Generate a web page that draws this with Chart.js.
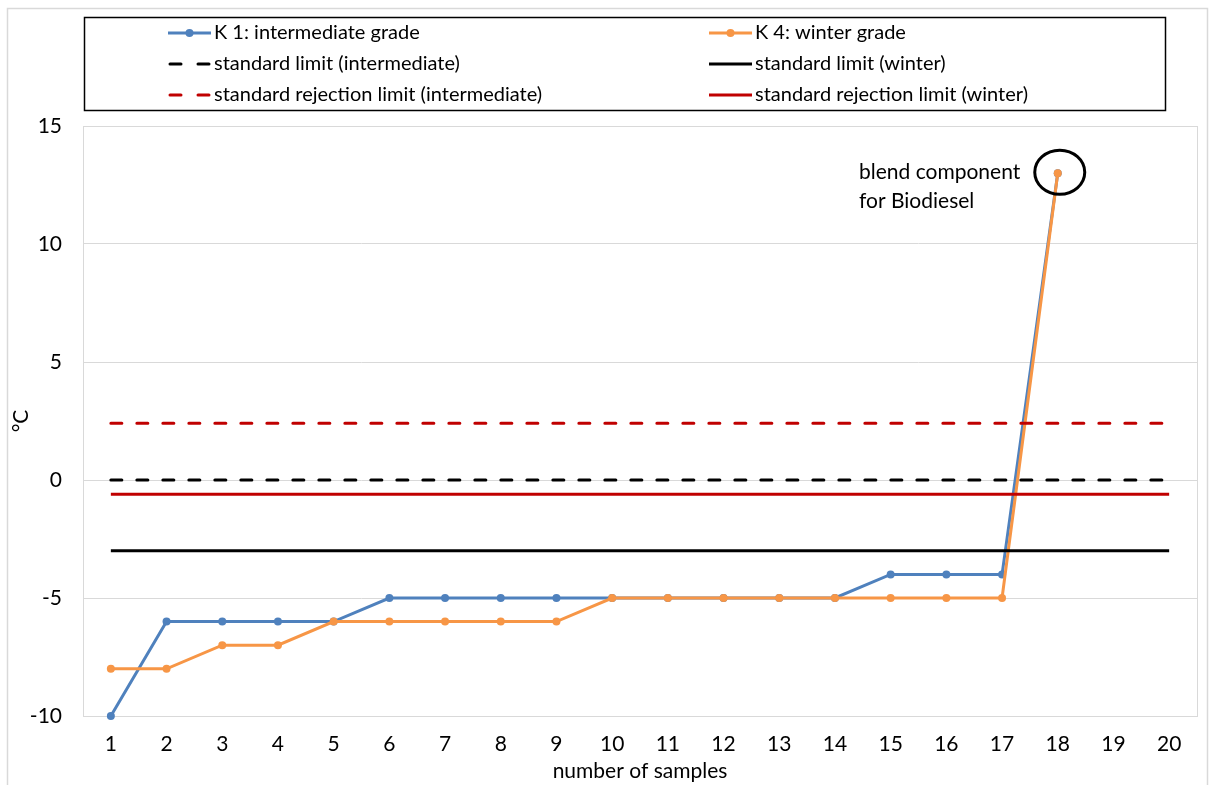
<!DOCTYPE html>
<html>
<head>
<meta charset="utf-8">
<script src="https://cdn.jsdelivr.net/npm/chart.js@4.4.1/dist/chart.umd.min.js"></script>
<style>
  html, body { margin: 0; padding: 0; background: #ffffff; }
  #wrap { width: 1209px; height: 785px; position: relative; }
</style>
</head>
<body>
<div id="wrap"><canvas id="chart" width="1209" height="785"></canvas></div>
<script>
// Sample numbers on the x axis
const samples = ['1','2','3','4','5','6','7','8','9','10','11','12','13','14','15','16','17','18','19','20'];

// Measured values (°C)
const k1Intermediate = [-10, -6, -6, -6, -6, -5, -5, -5, -5, -5, -5, -5, -5, -5, -4, -4, -4, 13];
const k4Winter       = [-8, -8, -7, -7, -6, -6, -6, -6, -6, -5, -5, -5, -5, -5, -5, -5, -5, 13];

// Limits (°C)
const limitIntermediate          = 0;
const limitWinter                = -3;
const rejectionLimitIntermediate = 2.4;
const rejectionLimitWinter       = -0.6;

// Y axis range
const yMin = -10, yMax = 15, yStep = 5;

const FONT = 'Lato, "Open Sans", "Liberation Sans", sans-serif';
const AXIS_SIZE = 21;
const BLUE = '#4F81BD', ORANGE = '#F79646', RED = '#C00000', BLACK = '#000000';

// a limit is drawn across the full sample range
const span = v => [{ x: samples[0], y: v }, { x: samples[samples.length - 1], y: v }];

const seriesStyle = (color) => ({
  borderColor: color, backgroundColor: color, borderWidth: 3,
  pointRadius: 4, pointHoverRadius: 4, pointBackgroundColor: color, pointBorderWidth: 0,
  tension: 0, clip: false
});
const limitStyle = (color, dashed) => ({
  borderColor: color, backgroundColor: color, borderWidth: 3,
  borderDash: dashed ? [11, 15] : [], borderCapStyle: dashed ? 'round' : 'butt',
  pointRadius: 0, pointHoverRadius: 0, order: 0
});

const datasets = [
  Object.assign({ label: 'K 1: intermediate grade', data: k1Intermediate, order: 2 }, seriesStyle(BLUE)),
  Object.assign({ label: 'K 4: winter grade', data: k4Winter, order: 1 }, seriesStyle(ORANGE)),
  Object.assign({ label: 'standard limit (intermediate)', data: span(limitIntermediate) }, limitStyle(BLACK, true)),
  Object.assign({ label: 'standard limit (winter)', data: span(limitWinter) }, limitStyle(BLACK, false)),
  Object.assign({ label: 'standard rejection limit (intermediate)', data: span(rejectionLimitIntermediate) }, limitStyle(RED, true)),
  Object.assign({ label: 'standard rejection limit (winter)', data: span(rejectionLimitWinter) }, limitStyle(RED, false))
];

// Outer frame, plot border, two-column boxed legend and the note on sample 18
const decorations = {
  id: 'decorations',
  beforeDatasetsDraw(chart) {
    const { ctx, chartArea: a } = chart;
    ctx.save();
    ctx.strokeStyle = '#D9D9D9';
    ctx.lineWidth = 1;
    ctx.strokeRect(Math.round(a.left) + 0.5, Math.round(a.top) + 0.5,
                   Math.round(a.right - a.left), Math.round(a.bottom - a.top));
    ctx.restore();
  },
  afterDraw(chart) {
    const { ctx } = chart;
    ctx.save();
    // outer frame
    ctx.strokeStyle = '#D9D9D9';
    ctx.lineWidth = 1.5;
    ctx.beginPath();
    ctx.moveTo(7.5, 800); ctx.lineTo(7.5, 8.5); ctx.lineTo(1207.5, 8.5); ctx.lineTo(1207.5, 800);
    ctx.stroke();

    // legend box
    ctx.strokeStyle = '#000000';
    ctx.lineWidth = 1.5;
    ctx.strokeRect(84.5, 17.5, 1081, 93);

    const colX = [168, 709];
    const rowY = [33, 64, 95];
    ctx.font = '20px ' + FONT;
    ctx.textBaseline = 'middle';
    ctx.textAlign = 'left';
    chart.data.datasets.forEach((ds, i) => {
      const x0 = colX[i % 2], y = rowY[Math.floor(i / 2)];
      const x1 = x0 + 43;
      ctx.strokeStyle = ds.borderColor;
      ctx.lineWidth = 3;
      if (ds.borderDash && ds.borderDash.length) {
        ctx.lineCap = 'round';
        ctx.beginPath(); ctx.moveTo(x0 + 2, y); ctx.lineTo(x0 + 13, y); ctx.stroke();
        ctx.beginPath(); ctx.moveTo(x1 - 13, y); ctx.lineTo(x1 - 2, y); ctx.stroke();
      } else {
        ctx.lineCap = 'butt';
        ctx.beginPath(); ctx.moveTo(x0, y); ctx.lineTo(x1, y); ctx.stroke();
      }
      if (ds.pointRadius > 0) {
        ctx.fillStyle = ds.borderColor;
        ctx.beginPath(); ctx.arc((x0 + x1) / 2, y, 4, 0, Math.PI * 2); ctx.fill();
      }
      ctx.fillStyle = '#000000';
      ctx.fillText(ds.label, x1 + 3, y);
    });

    // note pointing at the last measured sample
    const xs = chart.scales.x, ys = chart.scales.y;
    const idx = k4Winter.length - 1;
    const px = xs.getPixelForValue(idx), py = ys.getPixelForValue(k4Winter[idx]);
    ctx.strokeStyle = '#000000';
    ctx.lineWidth = 3;
    ctx.beginPath();
    ctx.ellipse(px + 2, py - 1, 25, 22, 0, 0, Math.PI * 2);
    ctx.stroke();
    ctx.fillStyle = '#000000';
    ctx.font = '21px ' + FONT;
    ctx.textAlign = 'left';
    ctx.fillText('blend component', 859, py - 1);
    ctx.fillText('for Biodiesel', 859, py + 28);
    ctx.restore();
  }
};

new Chart(document.getElementById('chart'), {
  type: 'line',
  data: { labels: samples, datasets },
  plugins: [decorations],
  options: {
    responsive: false,
    animation: false,
    events: [],
    layout: { padding: { top: 126, left: 8, right: 12, bottom: 0 } },
    plugins: { legend: { display: false }, tooltip: { enabled: false } },
    scales: {
      x: {
        type: 'category',
        offset: true,
        grid: { display: false, drawTicks: false },
        border: { display: false },
        ticks: { color: '#000', font: { family: FONT, size: AXIS_SIZE }, padding: 16, maxRotation: 0, autoSkip: false },
        title: { display: true, text: 'number of samples', color: '#000', font: { family: FONT, size: AXIS_SIZE }, padding: { top: 2, bottom: 1 } },
        afterFit(s) { s.height = 69; }
      },
      y: {
        min: yMin, max: yMax,
        grid: { color: '#D9D9D9', lineWidth: 1, drawTicks: false },
        border: { display: false },
        ticks: { stepSize: yStep, color: '#000', font: { family: FONT, size: AXIS_SIZE }, padding: 21 },
        title: { display: true, text: '°C', color: '#000', font: { family: FONT, size: AXIS_SIZE }, padding: { top: 1, bottom: 0 } },
        afterFit(s) { s.width = 75; }
      }
    }
  }
});
</script>
</body>
</html>
